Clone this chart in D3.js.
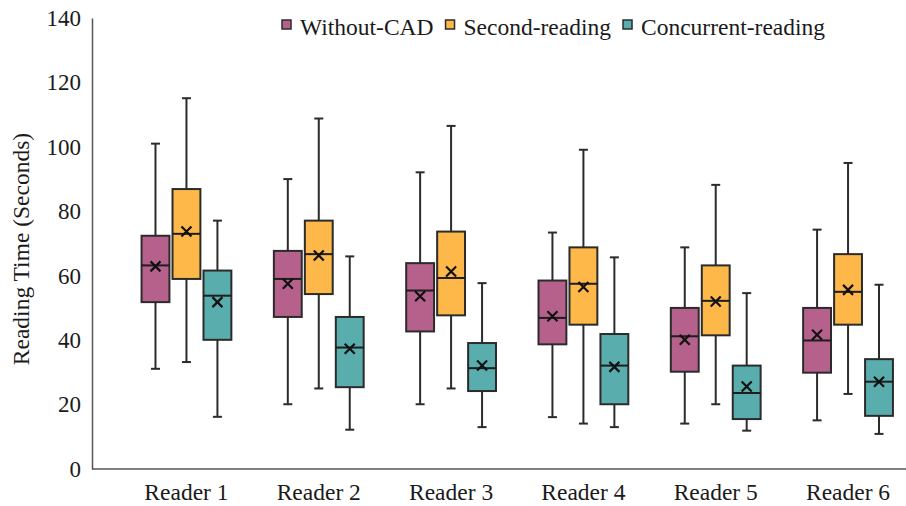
<!DOCTYPE html>
<html>
<head>
<meta charset="utf-8">
<script src="https://cdn.jsdelivr.net/npm/d3@7"></script>
<style>
  body { margin: 0; background: #fff; }
</style>
</head>
<body>
<div id="chart"></div>
<script>
// categories and series
const readers = ['Reader 1', 'Reader 2', 'Reader 3', 'Reader 4', 'Reader 5', 'Reader 6'];
const seriesNames = ['Without-CAD', 'Second-reading', 'Concurrent-reading'];
const seriesColors = ['#b5618c', '#fdb849', '#5aadad'];
const yTicks = [0, 20, 40, 60, 80, 100, 120, 140];

// each row: [lower whisker, q1, median, q3, upper whisker, mean]
const withoutCAD = [
  [31.1, 51.8, 63.2, 72.4, 101.0, 62.9],
  [20.1, 47.2, 59.0, 67.7, 90.0, 57.5],
  [20.1, 42.7, 55.4, 63.9, 92.1, 53.6],
  [16.1, 38.7, 46.9, 58.5, 73.4, 47.4],
  [14.1, 30.2, 41.2, 50.0, 68.8, 40.1],
  [15.1, 29.9, 39.9, 50.0, 74.3, 41.7]
];
const secondReading = [
  [33.2, 59.0, 73.0, 86.9, 115.1, 73.7],
  [25.0, 54.3, 66.7, 77.1, 108.8, 66.3],
  [25.0, 47.7, 59.3, 73.7, 106.5, 61.3],
  [14.1, 44.8, 57.5, 68.8, 99.1, 56.5],
  [20.1, 41.5, 52.2, 63.2, 88.2, 52.0],
  [23.3, 44.8, 55.0, 66.7, 95.0, 55.6]
];
const concurrentReading = [
  [16.2, 40.1, 53.8, 61.6, 77.1, 51.8],
  [12.2, 25.4, 37.7, 47.2, 66.0, 37.3],
  [13.0, 24.2, 31.3, 39.1, 57.7, 32.1],
  [13.0, 20.1, 32.1, 41.9, 65.7, 31.7],
  [11.9, 15.5, 23.6, 32.1, 54.6, 25.6],
  [10.9, 16.5, 27.1, 34.1, 57.2, 27.1]
];

const width = 906;
const height = 506;
const axisX = 92;
const axisBottom = 469;
const axisTop = 18;
const serif = '"Liberation Serif", "Times New Roman", Tinos, Times, serif';

const svg = d3.select('#chart')
  .append('svg')
  .attr('width', width)
  .attr('height', height)
  .style('font-family', serif);

const y = d3.scaleLinear()
  .domain([0, 140])
  .range([axisBottom, axisTop]);

const x = d3.scaleBand()
  .domain(readers)
  .range([120.3, 914.2]);

const xInner = d3.scaleBand()
  .domain(seriesNames)
  .range([-48, 48])
  .padding(0.1);

// build a flat table for the boxes
const allSeries = [withoutCAD, secondReading, concurrentReading];
const boxes = [];
allSeries.forEach((rows, s) => {
  rows.forEach((r, i) => {
    boxes.push({
      reader: readers[i], series: seriesNames[s], color: seriesColors[s],
      low: r[0], q1: r[1], median: r[2], q3: r[3], high: r[4], mean: r[5]
    });
  });
});

// axes
const yAxis = svg.append('g')
  .attr('transform', `translate(${axisX},0)`)
  .call(d3.axisLeft(y).tickValues(yTicks).tickSize(0).tickPadding(11));
yAxis.attr('font-family', null).attr('font-size', null);
yAxis.select('.domain').attr('stroke', '#555').attr('stroke-width', 1.5);
yAxis.selectAll('text')
  .style('font-family', serif)
  .style('font-size', '23px')
  .attr('fill', '#1a1a1a');

const xAxis = svg.append('g')
  .attr('transform', `translate(0,${axisBottom})`);
xAxis.append('line')
  .attr('x1', axisX).attr('x2', width)
  .attr('stroke', '#555').attr('stroke-width', 1.5);
xAxis.selectAll('text')
  .data(readers)
  .enter()
  .append('text')
  .attr('x', d => x(d) + x.bandwidth() / 2)
  .attr('y', 31)
  .attr('text-anchor', 'middle')
  .attr('fill', '#1a1a1a')
  .style('font-family', serif)
  .style('font-size', '23.5px')
  .text(d => d);

svg.append('text')
  .attr('transform', `translate(29,249) rotate(-90)`)
  .attr('text-anchor', 'middle')
  .attr('fill', '#1a1a1a')
  .style('font-family', serif)
  .style('font-size', '23.5px')
  .text('Reading Time (Seconds)');

// boxes
const boxW = xInner.bandwidth();
const capW = 9;
const g = svg.selectAll('.box')
  .data(boxes)
  .enter()
  .append('g')
  .attr('class', 'box')
  .attr('transform', d => `translate(${x(d.reader) + x.bandwidth() / 2 + xInner(d.series) + boxW / 2},0)`);

g.append('line')
  .attr('y1', d => y(d.low)).attr('y2', d => y(d.high))
  .attr('stroke', '#2b2b2b').attr('stroke-width', 2);
g.append('line')
  .attr('x1', -capW / 2).attr('x2', capW / 2)
  .attr('y1', d => y(d.high)).attr('y2', d => y(d.high))
  .attr('stroke', '#2b2b2b').attr('stroke-width', 2);
g.append('line')
  .attr('x1', -capW / 2).attr('x2', capW / 2)
  .attr('y1', d => y(d.low)).attr('y2', d => y(d.low))
  .attr('stroke', '#2b2b2b').attr('stroke-width', 2);
g.append('rect')
  .attr('x', -boxW / 2)
  .attr('width', boxW)
  .attr('y', d => y(d.q3))
  .attr('height', d => y(d.q1) - y(d.q3))
  .attr('fill', d => d.color)
  .attr('stroke', '#2b2b2b').attr('stroke-width', 2);
g.append('line')
  .attr('x1', -boxW / 2).attr('x2', boxW / 2)
  .attr('y1', d => y(d.median)).attr('y2', d => y(d.median))
  .attr('stroke', '#1e1e1e').attr('stroke-width', 2);
g.append('path')
  .attr('d', d => {
    const cy = y(d.mean);
    return `M-5,${cy - 5}L5,${cy + 5}M-5,${cy + 5}L5,${cy - 5}`;
  })
  .attr('stroke', '#111').attr('stroke-width', 2.2);

// legend
const legend = svg.append('g').attr('class', 'legend');
let lx = 282;
seriesNames.forEach((name, i) => {
  legend.append('rect')
    .attr('x', lx).attr('y', 20)
    .attr('width', 9).attr('height', 9)
    .attr('fill', seriesColors[i])
    .attr('stroke', '#2b2b2b').attr('stroke-width', 1.5);
  const t = legend.append('text')
    .attr('x', lx + 18).attr('y', 35)
    .attr('fill', '#1a1a1a')
    .style('font-family', serif)
    .style('font-size', '23.5px')
    .text(name);
  lx += 18 + t.node().getComputedTextLength() + 12;
});
</script>
</body>
</html>
